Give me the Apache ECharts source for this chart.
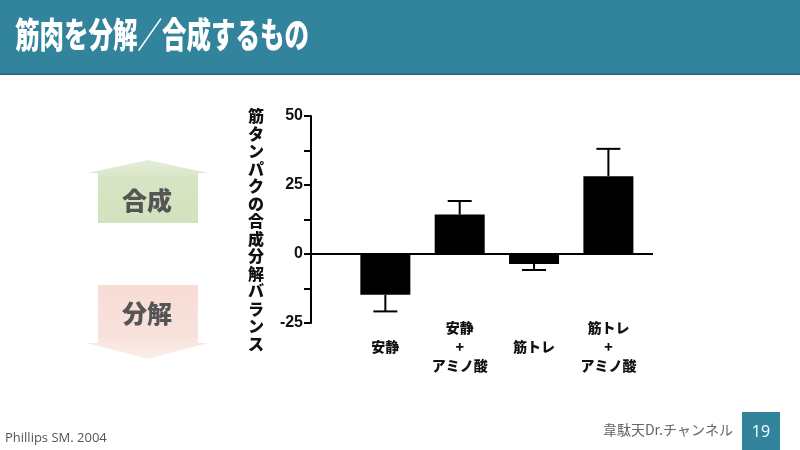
<!DOCTYPE html>
<html>
<head>
<meta charset="utf-8">
<script src="https://cdn.jsdelivr.net/npm/echarts@6/dist/echarts.min.js"></script>
<style>
  html, body { margin: 0; padding: 0; background: #fff; }
  #main { width: 800px; height: 450px; }
</style>
</head>
<body>
<div id="main"></div>
<script>
// 図のデータ
const categories = ['安静', '安静\n+\nアミノ酸', '筋トレ', '筋トレ\n+\nアミノ酸'];
const means = [-14.8, 14.3, -3.6, 28.2];
const errors = [6.0, 4.9, 2.2, 9.9];
const yTicks = [-25, 0, 25, 50];
const yName = '筋タンパクの合成分解バランス';

const cjk = '"Noto Sans CJK JP", sans-serif';
const chart = echarts.init(document.getElementById('main'));

const barData = means.map((m, i) => [i + 1, m]);
const errData = means.map((m, i) => [i + 1, m, errors[i]]);

const option = {
    animation: false,
    backgroundColor: '#fff',
    grid: { left: 311, right: 147, top: 116, bottom: 127 },
    xAxis: {
        type: 'value',
        min: 0,
        max: 4.6,
        interval: 1,
        axisLine: { show: false, onZero: false },
        axisTick: { show: false },
        splitLine: { show: false },
        axisLabel: {
            showMaxLabel: false,
            margin: 24,
            verticalAlign: 'middle',
            fontFamily: cjk,
            fontWeight: 900,
            fontSize: 14,
            lineHeight: 19,
            color: '#111',
            formatter: v => categories[v - 1] || ''
        }
    },
    yAxis: {
        type: 'value',
        min: yTicks[0],
        max: yTicks[yTicks.length - 1],
        interval: 25,
        axisLine: { show: true, lineStyle: { color: '#000', width: 2 } },
        axisTick: { show: true, length: 7, lineStyle: { color: '#000', width: 2 } },
        minorTick: { show: true, splitNumber: 2, length: 7, lineStyle: { color: '#000', width: 2 } },
        splitLine: { show: false },
        axisLabel: {
            margin: 8,
            fontFamily: '"Liberation Sans", Arial, sans-serif',
            fontWeight: 'bold',
            fontSize: 16,
            color: '#111'
        }
    },
    series: [
        {
            type: 'bar',
            data: barData,
            barWidth: 50,
            itemStyle: { color: '#000' },
            markLine: {
                silent: true,
                symbol: 'none',
                label: { show: false },
                lineStyle: { color: '#000', width: 2, type: 'solid' },
                data: [{ yAxis: 0 }]
            }
        },
        {
            type: 'custom',
            data: errData,
            renderItem: (params, api) => {
                const x = api.value(0);
                const m = api.value(1);
                const e = api.value(2);
                const end = m >= 0 ? m + e : m - e;
                const p0 = api.coord([x, m]);
                const p1 = api.coord([x, end]);
                const cap = 12;
                const style = { stroke: '#000', lineWidth: 2 };
                return {
                    type: 'group',
                    children: [
                        { type: 'line', shape: { x1: p0[0], y1: p0[1], x2: p1[0], y2: p1[1] }, style },
                        { type: 'line', shape: { x1: p1[0] - cap, y1: p1[1], x2: p1[0] + cap, y2: p1[1] }, style }
                    ]
                };
            },
            z: 3
        }
    ],
    graphic: [
        // ヘッダー
        { type: 'rect', shape: { x: 0, y: 0, width: 800, height: 74 }, style: { fill: '#32849c' } },
        { type: 'rect', shape: { x: 0, y: 73, width: 800, height: 2 }, style: { fill: '#2a6f84' } },
        {
            type: 'text', x: 15, y: 35, scaleX: 0.7,
            style: { text: '筋肉を分解／合成するもの', fill: '#fff', font: '900 35px ' + cjk, verticalAlign: 'middle' }
        },
        // 縦軸の名前
        {
            type: 'text', x: 256, y: 230,
            style: {
                text: yName.split('').join('\n'), fill: '#111', font: '900 16px ' + cjk,
                lineHeight: 17.5, align: 'center', verticalAlign: 'middle'
            }
        },
        // 合成の矢印
        {
            type: 'polygon',
            shape: { points: [[148, 160], [208, 173], [198, 173], [198, 223], [98, 223], [98, 173], [87, 173]] },
            style: { fill: new echarts.graphic.LinearGradient(0, 0, 0, 1, [{ offset: 0, color: '#e6eedb' }, { offset: 0.3, color: '#d6e4c3' }, { offset: 1, color: '#d3e2be' }]) }
        },
        {
            type: 'text', x: 147, y: 200,
            style: { text: '合成', fill: '#555', font: '900 25px ' + cjk, align: 'center', verticalAlign: 'middle' }
        },
        // 分解の矢印
        {
            type: 'polygon',
            shape: { points: [[98, 285], [198, 285], [198, 343], [208, 343], [148, 359], [87, 343], [98, 343]] },
            style: { fill: new echarts.graphic.LinearGradient(0, 0, 0, 1, [{ offset: 0, color: '#f7dcd5' }, { offset: 0.7, color: '#f8e2dc' }, { offset: 1, color: '#fbeeea' }]) }
        },
        {
            type: 'text', x: 147, y: 313,
            style: { text: '分解', fill: '#555', font: '900 25px ' + cjk, align: 'center', verticalAlign: 'middle' }
        },
        // フッター
        {
            type: 'text', x: 5, y: 438,
            style: { text: 'Phillips SM. 2004', fill: '#555', font: '13px "Open Sans", sans-serif', verticalAlign: 'middle' }
        },
        {
            type: 'text', x: 733, y: 430,
            style: { text: '韋駄天Dr.チャンネル', fill: '#666', font: '14px ' + cjk, align: 'right', verticalAlign: 'middle' }
        },
        { type: 'rect', shape: { x: 742, y: 412, width: 38, height: 38 }, style: { fill: '#32849c' } },
        {
            type: 'text', x: 761, y: 432,
            style: { text: '19', fill: '#fff', font: '16px "Open Sans", sans-serif', align: 'center', verticalAlign: 'middle' }
        }
    ]
};

chart.setOption(option);
</script>
</body>
</html>
